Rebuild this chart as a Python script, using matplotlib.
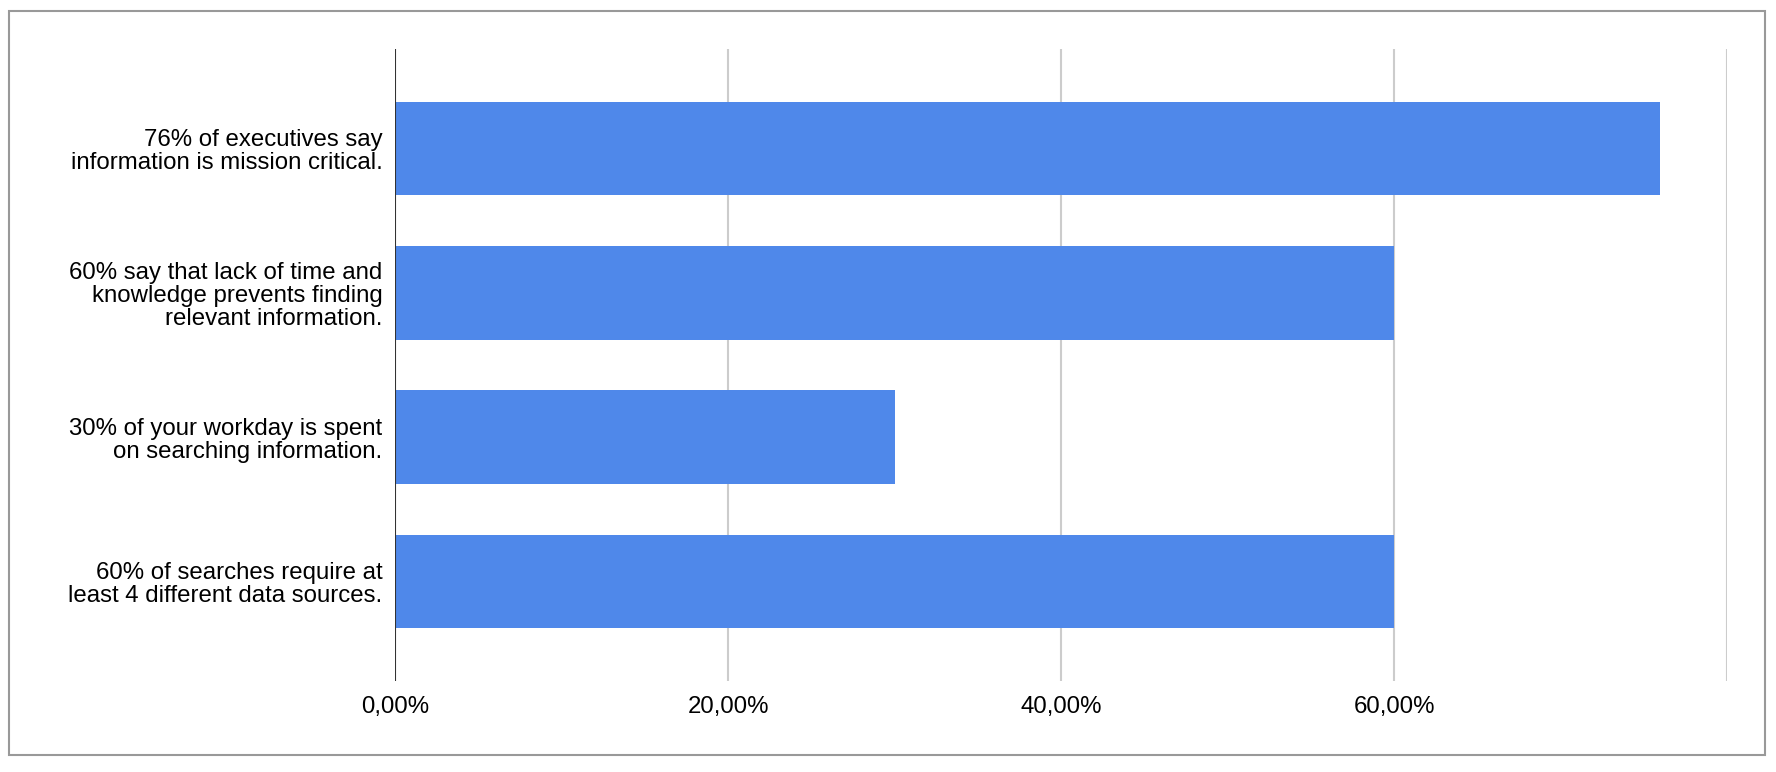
import matplotlib.pyplot as plt
from matplotlib.patches import Rectangle
from matplotlib.ticker import FixedLocator

plt.rcParams['font.family'] = ['Liberation Sans', 'DejaVu Sans']

labels = [
    "76% of executives say\ninformation is mission critical.",
    "60% say that lack of time and\nknowledge prevents finding\nrelevant information.",
    "30% of your workday is spent\non searching information.",
    "60% of searches require at\nleast 4 different data sources.",
]
values = [0.76, 0.60, 0.30, 0.60]
xticks = [0.0, 0.2, 0.4, 0.6]
xtick_labels = ["0,00%", "20,00%", "40,00%", "60,00%"]
gridlines = [0.2, 0.4, 0.6, 0.8]

fig = plt.figure(figsize=(17.76, 7.72), dpi=100)
ax = fig.add_axes([395 / 1776, 1 - 681 / 772, (1727 - 395) / 1776, (681 - 49) / 772])

pos = list(range(len(labels)))
ax.barh(pos, values, height=0.65, color="#4f88ea", zorder=3)

for g in gridlines:
    ax.axvline(g, color="#cccccc", linewidth=1.5, zorder=1)
ax.axvline(0, color="#333333", linewidth=1.5, zorder=4)

ax.set_xlim(0, 0.8)
ax.set_ylim(3.69, -0.69)
ax.set_yticks(pos)
ax.set_yticklabels(labels, fontsize=17.3, ha="right", linespacing=1.06)
ax.xaxis.set_major_locator(FixedLocator(xticks))
ax.set_xticklabels(xtick_labels, fontsize=17.3)
ax.tick_params(axis="y", length=0, pad=9)
ax.tick_params(axis="x", length=0, pad=11)
for s in ax.spines.values():
    s.set_visible(False)

# outer frame
fig.patches.append(Rectangle((9 / 1776, 1 - 755 / 772), (1765 - 9) / 1776, (755 - 11) / 772,
                             transform=fig.transFigure, fill=False, edgecolor="#999999", linewidth=1.5))

plt.savefig("out.png", dpi=100)
